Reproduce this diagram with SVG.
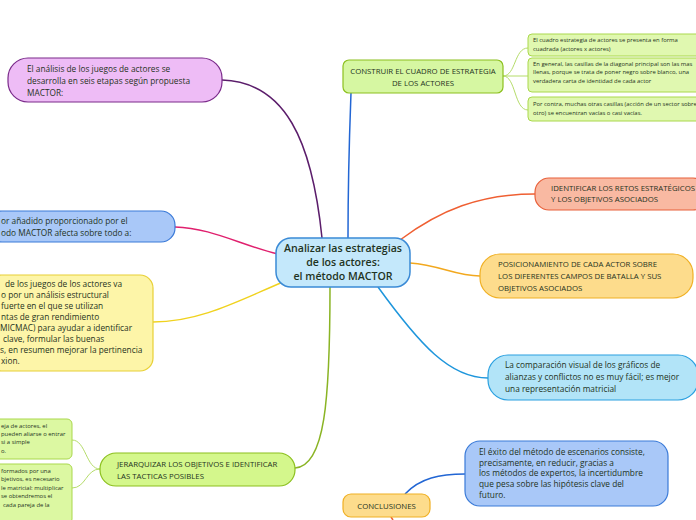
<svg xmlns="http://www.w3.org/2000/svg" width="696" height="520" viewBox="0 0 696 520">
<style>
text{font-family:"Open Sans","Noto Sans",sans-serif;fill:#1f3322;}
.m{font-size:8.3px;}
.u{font-size:7.8px;}
.s{font-size:5.9px;}
.c{font-size:10.6px;font-weight:600;}
.ln{fill:none;stroke-width:1.5;}
</style>
<rect width="696" height="520" fill="#ffffff"/>
<g id="connectors">
<path class="ln" stroke="#5b1d6b" d="M322 238 C312 140 285 82 222 80"/>
<path class="ln" stroke="#2266d4" d="M348 238 C348 170 350 120 351 93"/>
<path class="ln" stroke="#e0206e" d="M278 254 C240 245 212 228 175 227"/>
<path class="ln" stroke="#f0d21e" d="M283 282 C240 300 200 322 153 322"/>
<path class="ln" stroke="#8ab424" d="M330 287 C330 400 325 466 295 468"/>
<path class="ln" stroke="#1e96dc" d="M378 287 C420 345 450 378 488 378"/>
<path class="ln" stroke="#f2a81e" d="M410 263 C440 265 455 276 480 276"/>
<path class="ln" stroke="#ef5f32" d="M400 240 C440 210 480 194 535 194"/>
<path class="ln" stroke="#2266d4" d="M405 494 C420 478 440 474 465 474"/>
<path class="ln" stroke="#ef5f32" d="M391 517 L393 520"/>
<path fill="none" stroke="#b5dc6a" stroke-width="1" d="M503 76 C516 76 514 48 528 48 M503 76 L528 76 M503 76 C516 76 514 110 528 110"/>
<path fill="none" stroke="#b5dc6a" stroke-width="1" d="M100 469 C86 469 86 440 72 440 M100 469 C86 469 86 488 72 488"/>
</g>
<g id="center">
<rect x="276" y="238" width="134" height="49" rx="15" fill="#c4e8fb" stroke="#3a8ad6" stroke-width="1.5"/>
<text class="c" text-anchor="middle"><tspan x="343" y="252">Analizar las estrategias</tspan><tspan x="343" y="266">de los actores:</tspan><tspan x="343" y="280">el método MACTOR</tspan></text>
</g>
<g id="n-analisis">
<rect x="8" y="58" width="214" height="44" rx="20" fill="#eebcf6" stroke="#7a2a8a" stroke-width="1.2"/>
<text class="m"><tspan x="27" y="72">El análisis de los juegos de actores se</tspan><tspan x="27" y="84">desarrolla en seis etapas según propuesta</tspan><tspan x="27" y="96">MACTOR:</tspan></text>
</g>
<g id="n-valor">
<rect x="-12" y="211" width="187" height="31" rx="14" fill="#a9c8f8" stroke="#3a7ad8" stroke-width="1.2"/>
<text class="m"><tspan x="1" y="224">or añadido proporcionado por el</tspan><tspan x="1" y="236">odo MACTOR afecta sobre todo a:</tspan></text>
</g>
<g id="n-juegos">
<rect x="-12" y="275" width="165" height="96" rx="13" fill="#fdf5a8" stroke="#e8d036" stroke-width="1.2"/>
<text class="m"><tspan x="5" y="287">de los juegos de los actores va</tspan><tspan x="1" y="298">o por un análisis estructural</tspan><tspan x="1" y="309">fuerte en el que se utilizan</tspan><tspan x="1" y="320">ntas de gran rendimiento</tspan><tspan x="0" y="331">MICMAC) para ayudar a identificar</tspan><tspan x="3" y="342">clave, formular las buenas</tspan><tspan x="0" y="353">s, en resumen mejorar la pertinencia</tspan><tspan x="1" y="364">xion.</tspan></text>
</g>
<g id="n-jerarquizar">
<rect x="100" y="453" width="195" height="33" rx="16" fill="#d4f78c" stroke="#8cc01e" stroke-width="1.2"/>
<text class="u"><tspan x="117" y="467">JERARQUIZAR LOS OBJETIVOS E IDENTIFICAR</tspan><tspan x="117" y="479">LAS TACTICAS POSIBLES</tspan></text>
</g>
<g id="n-jer-a">
<rect x="-10" y="419" width="82" height="40" rx="5" fill="#dcf8a2" stroke="#aad84c" stroke-width="1"/>
<text class="s"><tspan x="1" y="428">eja de actores, el</tspan><tspan x="1" y="436">pueden aliarse o entrar</tspan><tspan x="1" y="444">si a simple</tspan><tspan x="1" y="453">o.</tspan></text>
</g>
<g id="n-jer-b">
<rect x="-10" y="464" width="82" height="60" rx="5" fill="#dcf8a2" stroke="#aad84c" stroke-width="1"/>
<text class="s"><tspan x="1" y="473">formados por una</tspan><tspan x="1" y="481">bjetivos, es necesario</tspan><tspan x="1" y="490">le matricial: multiplicar</tspan><tspan x="1" y="498">se obtendremos el</tspan><tspan x="3" y="507">cada pareja de la</tspan></text>
</g>
<g id="n-construir">
<rect x="343" y="60" width="160" height="33" rx="6" fill="#d6f7a2" stroke="#8cc01e" stroke-width="1.2"/>
<text class="u" text-anchor="middle"><tspan x="423" y="74">CONSTRUIR EL CUADRO  DE ESTRATEGIA</tspan><tspan x="423" y="86">DE LOS ACTORES</tspan></text>
</g>
<g id="n-c1">
<rect x="528" y="34" width="175" height="22" rx="4" fill="#e0f8b0" stroke="#aad84c" stroke-width="1"/>
<text class="s"><tspan x="533" y="42">El cuadro estrategia de actores se presenta en forma</tspan><tspan x="533" y="51">cuadrada (actores x actores)</tspan></text>
</g>
<g id="n-c2">
<rect x="528" y="58" width="175" height="34" rx="4" fill="#e0f8b0" stroke="#aad84c" stroke-width="1"/>
<text class="s"><tspan x="533" y="66">En general, las casillas de la diagonal principal son las mas</tspan><tspan x="533" y="74">llenas, porque se trata de poner negro sobre blanco, una</tspan><tspan x="533" y="83">verdadera carta de identidad de cada actor</tspan></text>
</g>
<g id="n-c3">
<rect x="528" y="97" width="175" height="24" rx="4" fill="#e0f8b0" stroke="#aad84c" stroke-width="1"/>
<text class="s"><tspan x="533" y="106">Por contra, muchas otras casillas (acción de un sector sobre</tspan><tspan x="533" y="115">otro) se encuentran vacías o casi vacías.</tspan></text>
</g>
<g id="n-identificar">
<rect x="535" y="178" width="172" height="32" rx="14" fill="#f9b9a2" stroke="#e8603a" stroke-width="1.2"/>
<text class="u"><tspan x="551" y="191">IDENTIFICAR LOS RETOS ESTRATÉGICOS</tspan><tspan x="551" y="202">Y LOS OBJETIVOS ASOCIADOS</tspan></text>
</g>
<g id="n-posicionamiento">
<rect x="480" y="254" width="213" height="44" rx="20" fill="#fddc8c" stroke="#f0b024" stroke-width="1.2"/>
<text class="u"><tspan x="498" y="267">POSICIONAMIENTO DE CADA ACTOR SOBRE</tspan><tspan x="498" y="279">LOS DIFERENTES CAMPOS DE BATALLA Y SUS</tspan><tspan x="498" y="291">OBJETIVOS ASOCIADOS</tspan></text>
</g>
<g id="n-comparacion">
<rect x="488" y="355" width="210" height="45" rx="20" fill="#b2e4f8" stroke="#2aa0e0" stroke-width="1.2"/>
<text class="m"><tspan x="505" y="368">La comparación visual de los gráficos de</tspan><tspan x="505" y="380">alianzas y conflictos no es muy fácil; es mejor</tspan><tspan x="505" y="392">una representación matricial</tspan></text>
</g>
<g id="n-exito">
<rect x="465" y="441" width="203" height="65" rx="15" fill="#a9c8f8" stroke="#3a7ad8" stroke-width="1.2"/>
<text class="m"><tspan x="479" y="455">El éxito del método de escenarios consiste,</tspan><tspan x="479" y="466">precisamente, en reducir, gracias a</tspan><tspan x="479" y="476">los métodos de expertos, la incertidumbre</tspan><tspan x="479" y="487">que pesa sobre las hipótesis clave del</tspan><tspan x="479" y="498">futuro.</tspan></text>
</g>
<g id="n-conclusiones">
<rect x="343" y="494" width="87" height="23" rx="8" fill="#fddc8c" stroke="#f0b024" stroke-width="1.2"/>
<text class="u" text-anchor="middle" x="386.5" y="508.5">CONCLUSIONES</text>
</g>
</svg>
